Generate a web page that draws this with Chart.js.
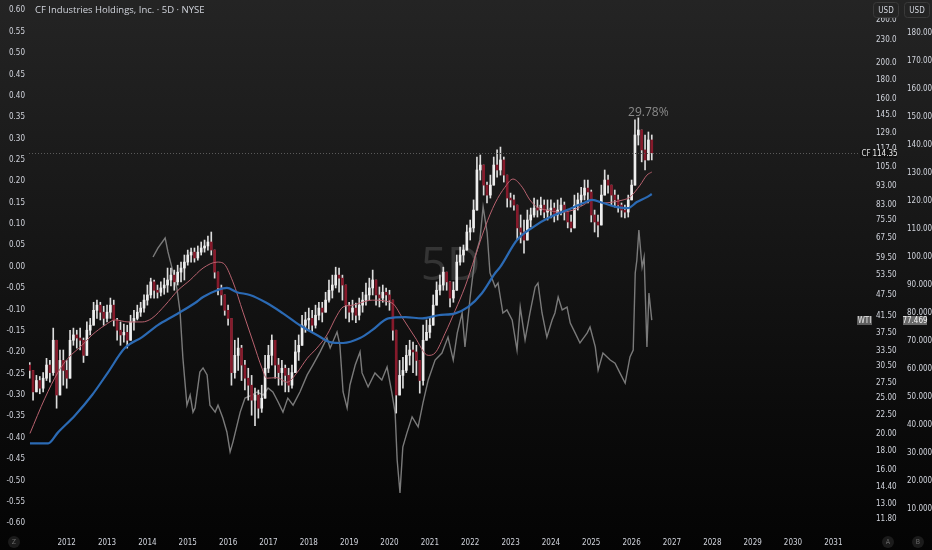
<!DOCTYPE html>
<html>
<head>
<meta charset="utf-8">
<script src="https://cdn.jsdelivr.net/npm/chart.js@4.4.1/dist/chart.umd.min.js"></script>
<style>
html, body { margin: 0; padding: 0; width: 932px; height: 550px; overflow: hidden;
  background: linear-gradient(to bottom, #242424 0%, #171717 40%, #0b0b0b 75%, #040404 100%); }
#wrap { position: relative; width: 932px; height: 550px; }
</style>
</head>
<body>
<div id="wrap"><canvas id="chart"></canvas></div>
<script>
const FONT = "'Liberation Sans Narrow','DejaVu Sans Condensed','Liberation Sans',sans-serif";

// CF monthly candles, first one is Feb 2011
const firstMonth = 2011 + 1 / 12;
const firstOpen = 30.7;
const cfClose = [
  29.7, 26.0, 27.9, 26.6, 28.3, 30.7, 29.3, 35.8, 25.5, 31.6, 29.7,
  28.3, 35.8, 37.0, 36.3, 35.8, 32.6, 38.1, 39.3, 43.1, 44.5, 42.6, 41.0,
  42.6, 44.5, 40.6, 38.1, 37.0, 37.6, 35.8, 40.1, 41.0, 42.6, 43.7, 45.9,
  47.4, 51.4, 48.8, 48.2, 49.5, 50.4, 52.0, 53.6, 51.4, 54.6, 56.0, 58.1,
  60.7, 61.8, 59.6, 61.8, 63.4, 64.2, 65.8, 62.6, 54.6, 49.5, 47.4, 43.1,
  41.0, 29.3, 32.6, 34.1, 30.7, 28.3, 27.1, 24.7, 25.5, 23.5, 25.0, 30.1,
  32.6, 35.8, 30.7, 29.3, 30.1, 28.8, 27.1, 29.3, 33.3, 34.7, 39.3, 40.6,
  41.0, 39.3, 41.8, 43.7, 42.6, 45.9, 48.8, 50.4, 53.6, 52.6, 50.4, 44.5,
  42.6, 43.7, 41.8, 44.5, 45.9, 47.4, 49.5, 52.0, 47.4, 46.5, 48.2, 47.4,
  45.9, 38.1, 25.5, 28.8, 29.7, 32.6, 33.7, 33.3, 31.6, 27.9, 35.8, 37.6,
  39.3, 44.5, 48.8, 50.4, 54.6, 51.4, 46.5, 48.8, 58.1, 60.7, 62.6, 70.0,
  71.8, 80.2, 102.8, 106.0, 93.6, 88.0, 93.6, 106.0, 102.8, 109.4, 99.6, 86.4,
  85.4, 82.7, 71.8, 70.0, 66.6, 75.4, 77.8, 81.2, 80.2, 82.7, 79.2, 80.2,
  81.2, 77.8, 80.2, 82.7, 79.2, 74.5, 71.8, 82.7, 85.4, 88.0, 91.9, 89.7,
  77.8, 74.5, 73.1, 88.0, 96.6, 93.6, 88.0, 85.4, 82.7, 80.2, 79.2, 85.4,
  93.6, 127.7, 131.7, 116.4, 109.4, 123.8, 114.35
];
const cfHigh = [
  31.2, 29.3, 28.8, 28.6, 29.3, 32.0, 31.6, 38.6, 35.8, 33.7, 33.7,
  31.6, 38.1, 38.6, 38.1, 38.6, 36.3, 40.1, 41.0, 45.3, 45.9, 45.3, 44.2,
  44.5, 46.5, 45.9, 41.0, 40.1, 39.6, 39.3, 41.8, 43.1, 44.5, 45.3, 47.4,
  50.4, 52.6, 52.0, 50.4, 51.4, 52.6, 56.0, 56.0, 55.3, 57.0, 58.1, 60.7,
  62.6, 63.4, 63.4, 64.2, 65.8, 66.6, 68.3, 70.0, 62.6, 53.6, 50.4, 45.9,
  44.5, 40.6, 35.8, 36.3, 34.7, 31.6, 30.1, 28.8, 26.6, 26.3, 27.1, 32.6,
  34.7, 37.0, 34.1, 32.0, 31.6, 30.7, 30.1, 30.7, 35.8, 37.0, 41.8, 42.6,
  43.7, 43.1, 44.5, 45.3, 45.3, 48.2, 52.0, 53.6, 56.3, 56.0, 53.6, 48.8,
  45.3, 45.9, 45.1, 46.5, 48.2, 51.0, 52.6, 55.3, 50.4, 49.8, 50.4, 49.5,
  48.8, 44.5, 38.1, 31.6, 32.2, 34.7, 35.8, 35.4, 34.7, 30.7, 39.3, 40.6,
  41.0, 47.4, 51.4, 53.6, 56.3, 54.6, 50.4, 51.4, 60.7, 63.8, 64.6, 73.1,
  75.4, 85.4, 111.4, 112.8, 106.0, 95.4, 99.6, 111.4, 116.4, 118.5, 111.4, 96.6,
  89.1, 88.0, 80.2, 77.8, 75.4, 80.2, 81.2, 86.4, 85.4, 86.9, 85.4, 85.4,
  85.4, 83.8, 85.4, 86.4, 84.3, 79.2, 77.8, 88.0, 89.1, 92.4, 96.6, 96.6,
  90.8, 80.2, 77.8, 93.6, 102.8, 99.6, 93.6, 90.8, 88.0, 83.8, 82.7, 88.0,
  96.6, 140.2, 142.0, 130.1, 127.7, 130.1, 127.7
];
const cfLow = [
  28.3, 24.7, 26.0, 25.7, 26.0, 27.9, 27.6, 28.8, 23.5, 26.6, 27.1,
  26.6, 28.3, 34.7, 34.1, 33.7, 31.2, 33.7, 37.0, 39.3, 41.0, 40.6, 39.3,
  40.1, 41.0, 39.1, 35.8, 34.7, 35.4, 34.1, 35.8, 38.1, 40.6, 41.5, 42.6,
  44.5, 46.5, 46.5, 46.5, 47.1, 47.6, 48.2, 50.1, 48.8, 50.4, 51.4, 52.0,
  57.0, 58.1, 58.1, 58.8, 60.7, 61.8, 62.6, 60.7, 52.6, 47.4, 44.5, 41.8,
  39.3, 27.1, 28.3, 29.7, 27.9, 26.3, 24.7, 22.5, 21.1, 22.1, 22.9, 26.3,
  29.3, 30.7, 28.3, 27.1, 27.1, 26.0, 26.0, 26.6, 30.1, 31.6, 35.8, 37.6,
  38.1, 37.6, 38.6, 40.6, 40.1, 42.6, 45.3, 46.5, 49.5, 48.2, 45.9, 41.0,
  40.1, 40.6, 39.9, 40.6, 42.6, 44.5, 45.9, 47.4, 44.5, 44.0, 45.3, 44.5,
  43.1, 35.8, 22.8, 25.5, 26.6, 29.3, 30.7, 29.3, 28.8, 25.8, 27.1, 35.8,
  36.3, 41.8, 44.5, 47.4, 48.8, 48.8, 44.0, 45.3, 50.4, 57.0, 58.1, 64.6,
  66.6, 70.0, 82.7, 96.6, 88.0, 83.8, 86.4, 96.6, 98.4, 99.6, 95.4, 81.7,
  81.7, 80.2, 66.6, 65.4, 61.4, 66.6, 72.2, 76.8, 76.8, 77.8, 76.4, 75.4,
  76.4, 74.5, 75.4, 77.8, 75.4, 71.8, 70.0, 73.1, 80.2, 82.7, 85.4, 83.8,
  74.5, 70.0, 67.9, 73.1, 88.0, 89.1, 82.7, 81.7, 79.2, 76.8, 76.4, 76.8,
  88.0, 93.6, 120.0, 108.1, 102.8, 109.4, 109.4
];

// moving averages
const maRedYears = [2011.09, 2011.46, 2011.78, 2012.03, 2012.38, 2012.63, 2012.95, 2013.20, 2013.52, 2013.87,
  2014.11, 2014.44, 2014.76, 2015.06, 2015.38, 2015.73, 2015.88, 2016.12, 2016.37, 2016.62,
  2016.84, 2016.96, 2017.21, 2017.46, 2017.71, 2017.96, 2018.20, 2018.45, 2018.70, 2018.85,
  2019.10, 2019.27, 2019.57, 2020.06, 2020.31, 2020.63, 2020.96, 2021.13, 2021.38, 2021.63,
  2021.87, 2022.12, 2022.37, 2022.62, 2022.86, 2023.06, 2023.29, 2023.48, 2023.66, 2023.90,
  2024.23, 2024.55, 2024.80, 2025.04, 2025.29, 2025.54, 2025.79, 2025.96, 2026.21, 2026.38, 2026.50];
const maRedValues = [20.1, 25.0, 29.3, 32.0, 34.7, 37.0, 39.3, 40.6, 40.1, 40.1,
  41.0, 44.5, 48.8, 52.0, 56.0, 58.1, 57.7, 51.4, 42.6, 35.4,
  30.1, 28.3, 28.4, 27.6, 29.3, 32.0, 34.1, 37.0, 41.8, 44.0,
  44.5, 45.1, 45.9, 45.1, 41.3, 36.5, 32.6, 33.1, 37.4, 43.1,
  49.8, 60.0, 72.2, 83.8, 92.4, 97.2, 92.4, 85.4, 81.7, 80.2,
  79.2, 80.2, 82.7, 85.4, 83.8, 84.3, 85.4, 86.9, 93.6, 99.6, 101.5];
const maBlueYears = [2011.09, 2011.54, 2011.78, 2012.21, 2012.63, 2013.02, 2013.44, 2013.87, 2014.26, 2014.68,
  2015.18, 2015.38, 2015.73, 2015.97, 2016.22, 2016.54, 2016.96, 2017.36, 2017.78, 2018.20,
  2018.53, 2018.85, 2019.27, 2019.57, 2019.97, 2020.39, 2020.81, 2021.21, 2021.63, 2021.95,
  2022.29, 2022.62, 2022.74, 2023.16, 2023.56, 2023.98, 2024.40, 2024.80, 2025.02, 2025.29,
  2025.64, 2025.91, 2026.13, 2026.38, 2026.50];
const maBlueValues = [18.9, 18.9, 20.2, 22.5, 25.5, 29.3, 34.1, 36.5, 39.3, 41.8,
  45.1, 46.8, 48.8, 49.5, 48.2, 47.4, 45.1, 42.3, 39.3, 37.0,
  35.4, 35.2, 36.3, 38.1, 41.0, 41.3, 41.0, 41.8, 42.3, 44.0,
  47.9, 54.3, 56.3, 66.6, 72.2, 76.8, 80.2, 83.8, 85.4, 83.8,
  81.7, 81.2, 84.3, 86.9, 88.6];

// WTI (scale B)
const wtiYears = [2014.14, 2014.26, 2014.44, 2014.51, 2014.61, 2014.73, 2014.81, 2014.88, 2014.98, 2015.06,
  2015.13, 2015.18, 2015.30, 2015.38, 2015.48, 2015.55, 2015.68, 2015.75, 2015.87, 2015.97,
  2016.05, 2016.12, 2016.30, 2016.42, 2016.59, 2016.72, 2016.87, 2016.99, 2017.11, 2017.24,
  2017.36, 2017.48, 2017.61, 2017.78, 2017.96, 2018.10, 2018.28, 2018.45, 2018.53, 2018.70,
  2018.77, 2018.85, 2018.95, 2019.02, 2019.15, 2019.27, 2019.32, 2019.47, 2019.64, 2019.81,
  2019.94, 2020.06, 2020.14, 2020.19, 2020.26, 2020.33, 2020.43, 2020.56, 2020.71, 2020.83,
  2020.96, 2021.13, 2021.30, 2021.45, 2021.58, 2021.68, 2021.80, 2021.87, 2022.00, 2022.12,
  2022.24, 2022.32, 2022.42, 2022.49, 2022.62, 2022.69, 2022.81, 2022.91, 2023.04, 2023.16,
  2023.24, 2023.36, 2023.48, 2023.61, 2023.68, 2023.78, 2023.90, 2024.03, 2024.10, 2024.18,
  2024.28, 2024.40, 2024.48, 2024.60, 2024.72, 2024.90, 2024.97, 2025.10, 2025.17, 2025.29,
  2025.47, 2025.59, 2025.71, 2025.84, 2025.96, 2026.04, 2026.09, 2026.13, 2026.18, 2026.26,
  2026.31, 2026.38, 2026.43, 2026.50];
const wtiValues = [100.0, 103.2, 106.8, 101.8, 96.1, 88.9, 80.4, 63.9, 47.1, 50.7,
  44.6, 46.1, 58.9, 60.4, 57.9, 47.1, 44.6, 47.1, 42.5, 37.5,
  30.4, 33.9, 44.6, 49.6, 50.7, 51.8, 50.7, 53.2, 51.8, 48.2,
  44.6, 49.6, 47.1, 51.8, 57.9, 61.4, 66.1, 71.1, 67.5, 73.2,
  68.6, 51.8, 46.1, 54.3, 61.4, 66.1, 58.6, 53.6, 58.6, 56.1,
  60.7, 51.4, 44.3, 27.5, 15.7, 32.1, 37.1, 42.9, 39.3, 47.9,
  56.1, 63.2, 65.7, 71.4, 63.2, 72.9, 80.0, 67.9, 85.7, 100.0,
  106.1, 117.9, 108.6, 94.3, 89.3, 90.7, 80.0, 81.1, 77.5, 66.8,
  82.1, 70.4, 80.0, 89.3, 90.7, 80.0, 71.4, 77.5, 80.0, 85.7,
  81.1, 82.1, 76.4, 72.9, 69.3, 72.9, 75.0, 67.9, 59.6, 65.7,
  63.2, 62.1, 58.6, 55.0, 64.3, 66.8, 94.3, 98.9, 109.6, 96.4,
  100.0, 67.9, 87.1, 77.469];

// axis ticks
const yearTicks = [2012, 2013, 2014, 2015, 2016, 2017, 2018, 2019, 2020, 2021,
  2022, 2023, 2024, 2025, 2026, 2027, 2028, 2029, 2030, 2031];
const priceTicks = [11.8, 13, 14.4, 16, 18, 20, 22.5, 25, 27.5, 30.5, 33.5, 37.5, 41.5, 47.5,
  53.5, 59.5, 67.5, 75.5, 83, 93, 105, 117, 129, 145, 160, 180, 200, 230, 260];
const wtiTicks = [10, 20, 30, 40, 50, 60, 70, 80, 90, 100, 110, 120, 130, 140, 150, 160, 170, 180];
const zTicks = [-0.60, -0.55, -0.50, -0.45, -0.40, -0.35, -0.30, -0.25, -0.20, -0.15, -0.10, -0.05, 0,
  0.05, 0.10, 0.15, 0.20, 0.25, 0.30, 0.35, 0.40, 0.45, 0.50, 0.55, 0.60];

const title = 'CF Industries Holdings, Inc. · 5D · NYSE';
const watermark = '5D';
const cfLast = 114.35;
const wtiLast = 77.469;
const cfChange = '29.78%';

// candles as floating bars: wick = low..high, body = open..close
const wicks = [], bodies = [], bodyColors = [];
cfClose.forEach((c, i) => {
  const x = firstMonth + i / 12;
  const o = i === 0 ? firstOpen : cfClose[i - 1];
  const hi = Math.max(cfHigh[i], o, c);
  const lo = Math.min(cfLow[i], o, c);
  wicks.push({ x: x, y: [lo, hi] });
  bodies.push({ x: x, y: [Math.min(o, c), Math.max(o, c)] });
  bodyColors.push(c >= o ? '#eeeeee' : '#861a2b');
});

const pairs = (xs, ys) => xs.map((x, i) => ({ x: x, y: ys[i] }));

function fixWidth(w) {
  return function (s) { s.width = w; s.paddingTop = 0; s.paddingBottom = 0; };
}
const tickFont = { family: FONT, size: 8 };

function box(ctx, x, y, w, h, bg, text, color) {
  ctx.fillStyle = bg;
  ctx.fillRect(x, y, w, h);
  ctx.fillStyle = color;
  ctx.textAlign = 'center';
  ctx.textBaseline = 'middle';
  ctx.fillText(text, x + w / 2, y + h / 2 + 0.5);
}

const overlay = {
  id: 'overlay',
  beforeDatasetsDraw(chart) {
    const { ctx, chartArea: a } = chart;
    ctx.save();
    ctx.fillStyle = 'rgba(100,100,100,0.40)';
    ctx.font = "46px 'Open Sans','Liberation Sans',sans-serif";
    ctx.textAlign = 'center';
    ctx.textBaseline = 'middle';
    ctx.fillText(watermark, (a.left + a.right) / 2 + 3, (a.top + a.bottom) / 2 + 2);
    ctx.restore();
  },
  afterDraw(chart) {
    const { ctx, chartArea: a, scales } = chart;
    ctx.save();
    // last price dotted line
    const py = Math.round(scales.yA.getPixelForValue(cfLast)) + 0.5;
    ctx.strokeStyle = '#5a5a5a';
    ctx.lineWidth = 1;
    ctx.setLineDash([1, 2]);
    ctx.beginPath();
    ctx.moveTo(a.left, py);
    ctx.lineTo(a.right - 6, py);
    ctx.stroke();
    ctx.setLineDash([]);

    ctx.font = '8px ' + FONT;
    box(ctx, a.right - 6, py - 4.5, 12, 9, '#111111', 'CF', '#e0e0e0');
    box(ctx, a.right + 7, py - 4.5, 24, 9, '#111111', cfLast.toFixed(2), '#f0f0f0');

    const wy = Math.round(scales.yB.getPixelForValue(wtiLast)) + 0.5;
    box(ctx, a.right - 9, wy - 4.5, 15, 9, '#5e5e5e', 'WTI', '#e8e8e8');
    box(ctx, scales.yB.left + 6, wy - 4.5, 24, 9, '#6a6a6a', wtiLast.toFixed(3), '#f4f4f4');

    // USD buttons
    [scales.yA.left + 8, scales.yB.left + 8].forEach(bx => {
      ctx.fillStyle = '#242424';
      ctx.strokeStyle = '#3a3a3a';
      ctx.beginPath();
      ctx.roundRect(bx - 0.5, 2.5, 25, 15, 3);
      ctx.fill();
      ctx.stroke();
      ctx.fillStyle = '#d1d4dc';
      ctx.textAlign = 'center';
      ctx.textBaseline = 'middle';
      ctx.fillText('USD', bx + 12, 10.5);
    });

    // scale letters at the bottom
    [[14, 'Z'], [scales.yA.left + 22, 'A'], [scales.yB.left + 21, 'B']].forEach(([cx, t]) => {
      ctx.fillStyle = '#1b1b1b';
      ctx.beginPath();
      ctx.arc(cx, 542, 6, 0, Math.PI * 2);
      ctx.fill();
      ctx.fillStyle = '#6a6a6a';
      ctx.font = '7px ' + FONT;
      ctx.textAlign = 'center';
      ctx.textBaseline = 'middle';
      ctx.fillText(t, cx, 542.5);
    });

    // title
    ctx.font = "9.5px 'Open Sans','Liberation Sans',sans-serif";
    ctx.fillStyle = '#d1d4dc';
    ctx.textAlign = 'left';
    ctx.textBaseline = 'middle';
    ctx.fillText(title, a.left + 6, 10);

    // change label above the top candle
    let top = 0;
    cfHigh.forEach((h, i) => { if (h > cfHigh[top]) top = i; });
    const tx = scales.x.getPixelForValue(firstMonth + top / 12);
    const ty = scales.yA.getPixelForValue(cfHigh[top]);
    ctx.font = "12px 'Open Sans','Liberation Sans',sans-serif";
    ctx.fillStyle = '#8a8a8a';
    ctx.textAlign = 'center';
    ctx.textBaseline = 'alphabetic';
    ctx.fillText(cfChange, tx + 10, ty - 2);
    ctx.restore();
  }
};

new Chart(document.getElementById('chart'), {
  type: 'bar',
  data: {
    datasets: [
      { type: 'line', label: 'WTI', data: pairs(wtiYears, wtiValues), yAxisID: 'yB',
        borderColor: '#7a7a7a', borderWidth: 1.4, pointRadius: 0, tension: 0, order: 5 },
      { type: 'bar', label: 'wick', data: wicks, yAxisID: 'yA', backgroundColor: '#dcdcdc',
        barThickness: 1, grouped: false, order: 4 },
      { type: 'bar', label: 'body', data: bodies, yAxisID: 'yA', backgroundColor: bodyColors,
        barThickness: 2, minBarLength: 1, grouped: false, order: 3 },
      { type: 'line', label: 'MA fast', data: pairs(maRedYears, maRedValues), yAxisID: 'yA',
        borderColor: '#b8626f', borderWidth: 1, pointRadius: 0, cubicInterpolationMode: 'monotone', order: 2 },
      { type: 'line', label: 'MA slow', data: pairs(maBlueYears, maBlueValues), yAxisID: 'yA',
        borderColor: '#2b6ab4', borderWidth: 2.2, pointRadius: 0, cubicInterpolationMode: 'monotone', order: 1 }
    ]
  },
  options: {
    responsive: true,
    maintainAspectRatio: false,
    animation: false,
    layout: { padding: 0 },
    plugins: { legend: { display: false }, tooltip: { enabled: false } },
    scales: {
      x: {
        type: 'linear', min: 2011.066, max: 2031.809, offset: false,
        grid: { display: false, drawTicks: false }, border: { display: false },
        afterBuildTicks: s => { s.ticks = yearTicks.map(v => ({ value: v })); },
        afterFit: s => { s.height = 20; s.paddingLeft = 0; s.paddingRight = 0; },
        ticks: { color: '#d1d4dc', font: tickFont, padding: 8, maxRotation: 0, autoSkip: false,
          callback: v => String(v) }
      },
      yZ: {
        type: 'linear', position: 'left', min: -0.6157, max: 0.6241,
        grid: { display: false, drawTicks: false }, border: { display: false },
        afterBuildTicks: s => { s.ticks = zTicks.map(v => ({ value: v })); },
        afterFit: fixWidth(29),
        ticks: { color: '#d1d4dc', font: tickFont, padding: 4, autoSkip: false,
          callback: v => Number(v).toFixed(2) }
      },
      yA: {
        type: 'logarithmic', position: 'right', weight: 1, min: 11.05, max: 294.7,
        grid: { display: false, drawTicks: false }, border: { display: false },
        afterBuildTicks: s => { s.ticks = priceTicks.map(v => ({ value: v })); },
        afterFit: fixWidth(31),
        ticks: { color: '#d1d4dc', font: tickFont, padding: 10, autoSkip: false,
          callback: v => Number(v).toFixed(2) }
      },
      yB: {
        type: 'linear', position: 'right', weight: 2, min: 2.5, max: 191.79,
        grid: { display: false, drawTicks: false }, border: { display: false },
        afterBuildTicks: s => { s.ticks = wtiTicks.map(v => ({ value: v })); },
        afterFit: fixWidth(35),
        ticks: { color: '#d1d4dc', font: tickFont, padding: 10, autoSkip: false,
          callback: v => Number(v).toFixed(3) }
      }
    }
  },
  plugins: [overlay]
});
</script>
</body>
</html>
